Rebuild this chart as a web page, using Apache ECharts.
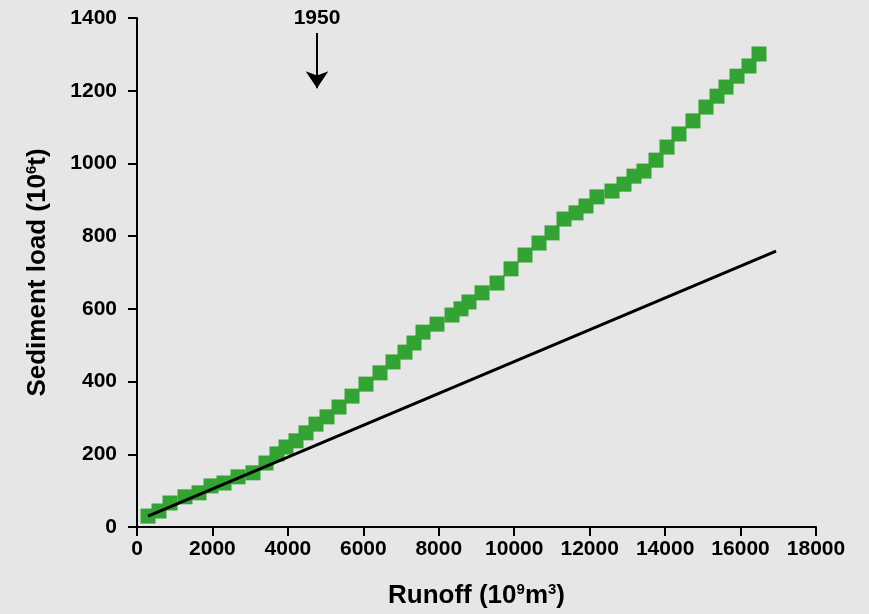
<!DOCTYPE html>
<html>
<head>
<meta charset="utf-8">
<script src="https://cdn.jsdelivr.net/npm/echarts@6/dist/echarts.min.js"></script>
<style>
html,body{margin:0;padding:0;background:#e6e6e6;}
#c{width:869px;height:614px;}
</style>
</head>
<body>
<div id="c"></div>
<script>
// Cumulative runoff (10^9 m^3) and cumulative sediment load (10^6 t)
const runoff = [292, 583, 875, 1272, 1644, 1962, 2306, 2677, 3075, 3420, 3711, 3950, 4215, 4480, 4745, 5037, 5355, 5700, 6071, 6442, 6787, 7105, 7343, 7582, 7953, 8351, 8589, 8801, 9146, 9544, 9915, 10286, 10657, 11002, 11320, 11638, 11903, 12194, 12592, 12910, 13175, 13440, 13759, 14050, 14368, 14739, 15084, 15376, 15614, 15906, 16224, 16489];
const sediment = [30, 44, 66, 83, 94, 113, 121, 138, 149, 176, 201, 220, 237, 259, 283, 303, 330, 360, 393, 424, 454, 481, 506, 536, 558, 583, 600, 619, 644, 671, 710, 748, 781, 809, 847, 864, 883, 908, 924, 943, 965, 979, 1009, 1045, 1081, 1117, 1155, 1185, 1210, 1240, 1268, 1301];
// Reference trend line (before-1950 relation) end points
const trendRunoff = [292, 16940];
const trendSediment = [30, 759];
// 1950 marker arrow
const markerYear = '1950';
const markerRunoff = 4772;
const markerTop = 1359;
const markerTip = 1207;

const xTicks = {min: 0, max: 18000, interval: 2000};
const yTicks = {min: 0, max: 1400, interval: 200};

const font = 'Liberation Sans, Arial, sans-serif';
const chart = echarts.init(document.getElementById('c'), null, {renderer: 'canvas'});

const nameRich = {
  n: {color: '#000', fontFamily: font, fontWeight: 'bold', fontSize: 26, lineHeight: 30, verticalAlign: 'bottom'},
  s: {color: '#000', fontFamily: font, fontWeight: 'bold', fontSize: 15, lineHeight: 30, verticalAlign: 'top', padding: [3, 0, 0, 0]}
};

const axisCommon = {
  axisLine: {show: true, onZero: false, lineStyle: {color: '#000', width: 2}},
  axisTick: {show: true, inside: false, length: 9, lineStyle: {color: '#000', width: 2}},
  splitLine: {show: false},
  axisLabel: {color: '#000', fontFamily: font, fontWeight: 'bold', fontSize: 21, formatter: v => String(v)},
  nameTextStyle: {color: '#000', fontFamily: font, fontWeight: 'bold', fontSize: 26, rich: nameRich}
};

chart.setOption({
  backgroundColor: '#e6e6e6',
  animation: false,
  grid: {left: 137, right: 53, top: 18, bottom: 87, containLabel: false},
  xAxis: Object.assign({}, axisCommon, {
    type: 'value', min: xTicks.min, max: xTicks.max, interval: xTicks.interval,
    name: '{n|Runoff (10}{s|9}{n|m}{s|3}{n|)}', nameLocation: 'middle', nameGap: 52,
    axisLabel: Object.assign({}, axisCommon.axisLabel, {margin: 12})
  }),
  yAxis: Object.assign({}, axisCommon, {
    type: 'value', min: yTicks.min, max: yTicks.max, interval: yTicks.interval,
    name: '{n|Sediment load (10}{s|6}{n|t)}', nameLocation: 'middle', nameGap: 86, nameRotate: 90,
    axisLabel: Object.assign({}, axisCommon.axisLabel, {margin: 20})
  }),
  series: [
    {
      type: 'scatter',
      symbol: 'rect',
      symbolSize: 15,
      itemStyle: {color: '#33a333', opacity: 1},
      data: runoff.map((v, i) => [v, sediment[i]]),
      z: 2,
      markLine: {
        silent: true,
        symbol: ['none', 'arrow'],
        symbolSize: 17,
        lineStyle: {color: '#000', width: 2, type: 'solid'},
        label: {show: true, position: 'start', formatter: markerYear, color: '#000', fontFamily: font, fontWeight: 'bold', fontSize: 21, distance: 4},
        data: [[{coord: [markerRunoff, markerTop]}, {coord: [markerRunoff, markerTip]}]]
      }
    },
    {
      type: 'line',
      data: trendRunoff.map((v, i) => [v, trendSediment[i]]),
      showSymbol: false,
      symbol: 'none',
      lineStyle: {color: '#000', width: 3},
      z: 3
    }
  ]
});
</script>
</body>
</html>
